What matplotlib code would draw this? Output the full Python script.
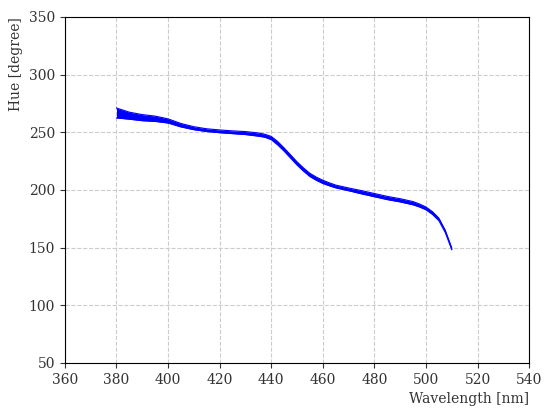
import matplotlib
matplotlib.use("Agg")
import matplotlib.pyplot as plt

# wavelength [nm] and upper / lower edge of the hue band [degree]
wavelength = [380, 385, 390, 395, 400, 405, 410, 415, 420, 425, 430, 435,
              437.5, 440, 442.5, 445, 447.5, 450, 452.5, 455, 457.5, 460,
              462.5, 465, 470, 475, 480, 485, 490, 495, 497.5, 500,
              502.5, 505, 507.5, 510]
hue_upper = [271.0, 267.4, 265.3, 264.0, 261.6, 257.6, 254.8, 253.0, 252.0,
             251.2, 250.6, 249.4, 248.3, 246.4, 242.0, 236.4, 230.4, 224.4,
             219.1, 214.4, 211.1, 208.4, 206.2, 204.2, 201.7, 199.4, 196.9,
             194.4, 192.4, 189.9, 187.8, 185.2, 181.2, 175.6, 165.0, 149.8]
hue_lower = [262.4, 261.3, 260.0, 259.4, 258.0, 254.6, 252.2, 250.6, 249.6,
             248.8, 248.0, 246.6, 245.7, 243.6, 239.0, 233.6, 227.6, 221.6,
             216.3, 211.6, 208.3, 205.6, 203.6, 201.8, 199.3, 196.6, 194.1,
             191.6, 189.6, 187.1, 185.2, 182.8, 178.8, 173.4, 163.0, 148.2]

plt.rcParams["font.family"] = "DejaVu Serif"
plt.rcParams["font.size"] = 10

fig = plt.figure(figsize=(5.5, 4.12), dpi=100)
ax = fig.add_axes([0.118, 0.119, 0.844, 0.84])

ax.fill_between(wavelength, hue_lower, hue_upper, color="#0000ff", linewidth=0)
ax.plot(wavelength, hue_upper, color="#0000ff", linewidth=0.8)
ax.plot(wavelength, hue_lower, color="#0000ff", linewidth=0.8)

ax.set_xlim(360, 540)
ax.set_ylim(50, 350)
ax.set_xticks(range(360, 541, 20))
ax.set_yticks(range(50, 351, 50))
ax.grid(True, linestyle="--", color="#cccccc", linewidth=0.8)
ax.set_axisbelow(True)

ax.set_xlabel("Wavelength [nm]", loc="right", color="#333333")
ax.set_ylabel("Hue [degree]", loc="top", color="#333333")
ax.tick_params(colors="#333333")

fig.savefig("out.png", dpi=100)
